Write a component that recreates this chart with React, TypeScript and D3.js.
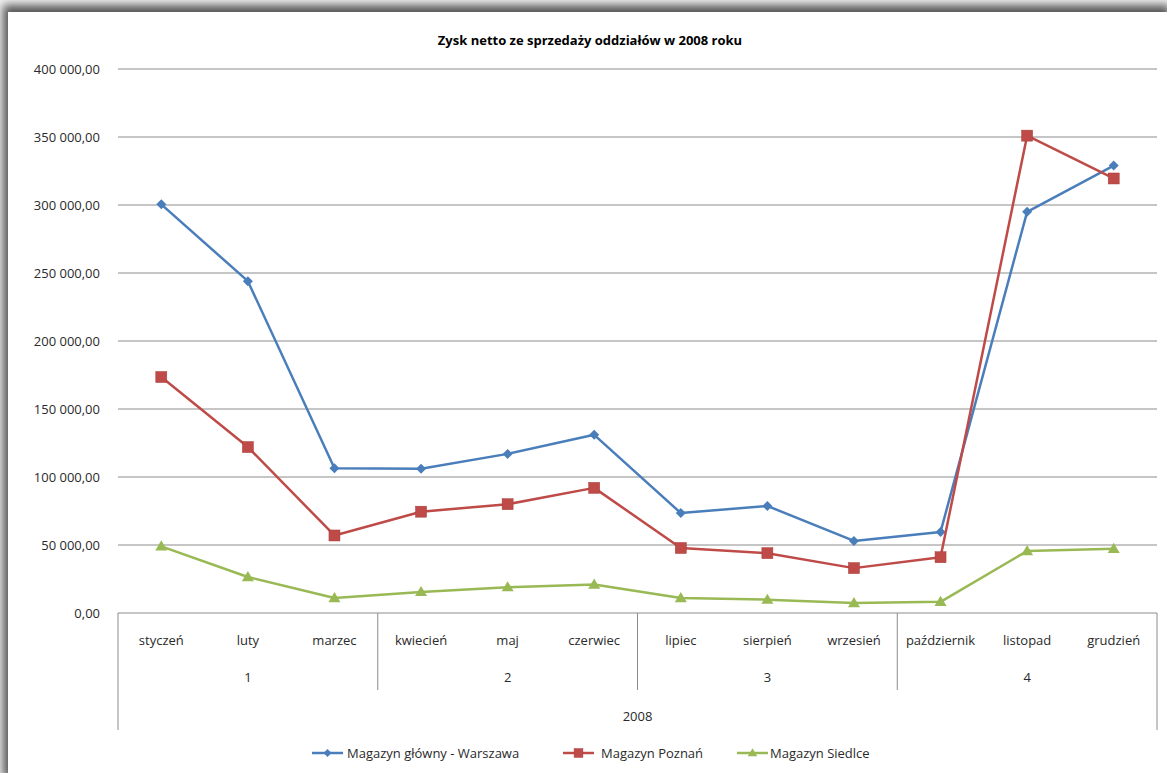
import React from "react";
import * as d3 from "d3";

const months = ["styczeń","luty","marzec","kwiecień","maj","czerwiec","lipiec","sierpień","wrzesień","październik","listopad","grudzień"];
const quarters = ["1","2","3","4"];
const yearLabel = "2008";
const yTicks = [0,50000,100000,150000,200000,250000,300000,350000,400000];
const warszawa = [300500,244000,106500,106000,117000,131000,73500,78700,53000,59600,295000,329000];
const poznan = [173500,122000,57000,74500,80000,92000,47800,44000,33000,41000,351000,319500];
const siedlce = [49000,26500,11000,15500,19000,21000,11000,9800,7400,8200,45600,47200];
const title = "Zysk netto ze sprzedaży oddziałów w 2008 roku";

const seriesDefs = [
  { name: "Magazyn główny - Warszawa", values: warszawa, color: "#4a7ebb", marker: "diamond" },
  { name: "Magazyn Poznań", values: poznan, color: "#be4b48", marker: "square" },
  { name: "Magazyn Siedlce", values: siedlce, color: "#98b954", marker: "triangle" },
];

const W = 1167, H = 773;
const left = 118, right = 1157, top = 69, bottom = 613;
const font = "'Open Sans', 'Noto Sans', sans-serif";
const lblSize = 13;

function fmt(v: number) {
  const s = d3.format(",.2f")(v);
  return s.replace(/,/g, "\u202F").replace(".", ",").replace(/\u202F/g, " ");
}

function Marker({ type, x, y, color, s = 1 }: { type: string; x: number; y: number; color: string; s?: number }) {
  if (type === "diamond") {
    const r = 5 * s;
    return <path d={`M${x},${y - r}L${x + r},${y}L${x},${y + r}L${x - r},${y}Z`} fill={color} />;
  }
  if (type === "square") {
    const r = 5.5 * s;
    return <rect x={x - r} y={y - r} width={2 * r} height={2 * r} fill={color} stroke="#a83c3a" strokeWidth={0.5} />;
  }
  const r = 6 * s;
  return <path d={`M${x},${y - r}L${x + r},${y + r * 0.7}L${x - r},${y + r * 0.7}Z`} fill={color} />;
}

export default function App() {
  const x = d3.scaleBand<string>().domain(months).range([left, right]);
  const y = d3.scaleLinear().domain([0, 400000]).range([bottom, top]);
  const cx = (m: string) => (x(m) as number) + x.bandwidth() / 2;
  const line = d3.line<number>().x((_, i) => cx(months[i])).y((v) => y(v));
  const qw = x.bandwidth() * 3;

  const legendItems = [
    { lx: 312, tx: 347 },
    { lx: 563, tx: 601 },
    { lx: 737, tx: 770 },
  ];

  return (
    <div style={{ position: "fixed", left: 0, top: 0 }}>
      <svg width={W} height={H} style={{ display: "block" }}>
        <defs>
          <filter id="sh" x="-5%" y="-5%" width="110%" height="110%">
            <feGaussianBlur stdDeviation="5" />
          </filter>
        </defs>
        <rect x={0} y={0} width={W} height={H} fill="#f2f2f2" />
        <rect x={3} y={5} width={W} height={H} fill="#555555" filter="url(#sh)" />
        <rect x={8} y={12} width={W} height={H} fill="#ffffff" />

        <text x={590} y={45} textAnchor="middle" fontFamily={font} fontWeight="bold" fontSize={13} fill="#000">
          {title}
        </text>

        {yTicks.map((t) => (
          <g key={t}>
            {t > 0 && <line x1={left} x2={right} y1={y(t)} y2={y(t)} stroke="#8c8c8c" strokeWidth={1} />}
            <text x={100} y={y(t) + 4.5} textAnchor="end" fontFamily={font} fontSize={lblSize} fill="#2a2a2a">
              {fmt(t)}
            </text>
          </g>
        ))}

        <line x1={left} x2={right} y1={bottom} y2={bottom} stroke="#8c8c8c" strokeWidth={1} />
        <line x1={left} x2={left} y1={bottom} y2={730} stroke="#8c8c8c" strokeWidth={1} />
        <line x1={right} x2={right} y1={bottom} y2={730} stroke="#8c8c8c" strokeWidth={1} />
        {[1, 2, 3].map((i) => (
          <line key={i} x1={left + qw * i} x2={left + qw * i} y1={bottom} y2={690} stroke="#8c8c8c" strokeWidth={1} />
        ))}
        {months.map((m) => (
          <text key={m} x={cx(m)} y={645} textAnchor="middle" fontFamily={font} fontSize={lblSize} fill="#2a2a2a">
            {m}
          </text>
        ))}
        {quarters.map((q, i) => (
          <text key={q} x={left + qw * i + qw / 2} y={682} textAnchor="middle" fontFamily={font} fontSize={lblSize} fill="#2a2a2a">
            {q}
          </text>
        ))}
        <text x={(left + right) / 2} y={721} textAnchor="middle" fontFamily={font} fontSize={lblSize} fill="#2a2a2a">
          {yearLabel}
        </text>

        {seriesDefs.map((s) => (
          <g key={s.name}>
            <path d={line(s.values) as string} fill="none" stroke={s.color} strokeWidth={2.5} strokeLinejoin="round" />
            {s.values.map((v, i) => (
              <Marker key={i} type={s.marker} x={cx(months[i])} y={y(v)} color={s.color} />
            ))}
          </g>
        ))}

        {seriesDefs.map((s, i) => (
          <g key={s.name}>
            <line x1={legendItems[i].lx} x2={legendItems[i].lx + 31} y1={753} y2={753} stroke={s.color} strokeWidth={2.5} />
            <Marker type={s.marker} x={legendItems[i].lx + 15.5} y={753} color={s.color} s={0.8} />
            <text x={legendItems[i].tx} y={758} fontFamily={font} fontSize={lblSize} fill="#2a2a2a">
              {s.name}
            </text>
          </g>
        ))}
      </svg>
    </div>
  );
}
